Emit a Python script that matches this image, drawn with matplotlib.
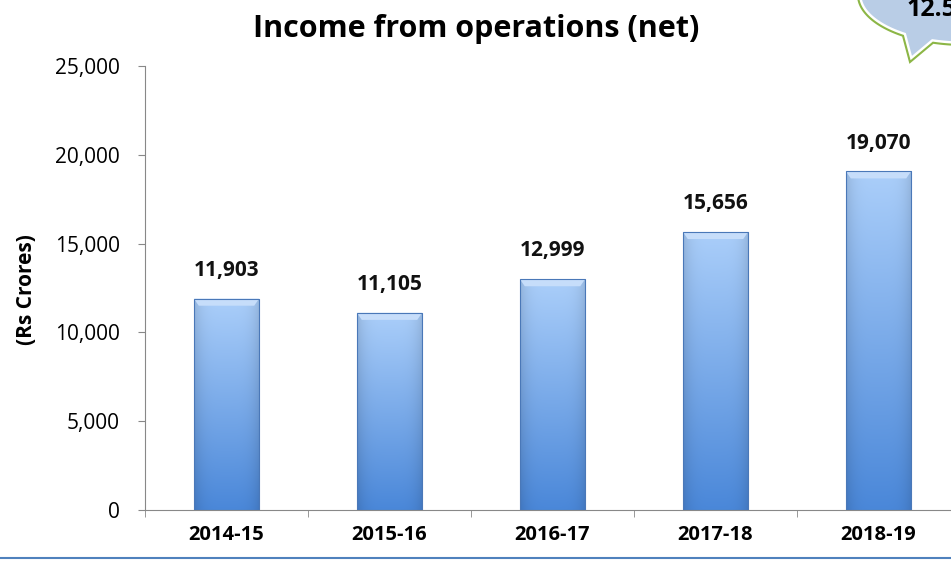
import numpy as np
import matplotlib
matplotlib.use("Agg")
import matplotlib.pyplot as plt
from matplotlib.patches import Polygon
from matplotlib.lines import Line2D

years = ["2014-15", "2015-16", "2016-17", "2017-18", "2018-19"]
income = [11903, 11105, 12999, 15656, 19070]
y_ticks = [0, 5000, 10000, 15000, 20000, 25000]

plt.rcParams["font.family"] = ["Open Sans", "DejaVu Sans"]

W, H = 951, 563
fig = plt.figure(figsize=(W / 100, H / 100), dpi=100)
ax = fig.add_axes([145 / W, 53 / H, 815 / W, 444 / H])

bar_w = 0.4
# vertical gradient: lighter at top, deeper blue at bottom
grad = np.linspace(0, 1, 256).reshape(-1, 1)
top_c = np.array([0.67, 0.81, 0.98])
bot_c = np.array([0.29, 0.53, 0.85])
img = (bot_c * (1 - grad)[..., None] + top_c * grad[..., None])
# horizontal shading for bevel look
xs = np.linspace(-1, 1, 64)
shade = 1 - 0.12 * np.abs(xs) ** 4
img = np.clip(img * shade[None, :, None], 0, 1)

bars = ax.bar(range(len(years)), income, width=bar_w, color="none",
              edgecolor="#4a78b8", linewidth=0.8, zorder=4)
bev_h = 400
bev_in = 0.03
for b in bars:
    x0, w, h = b.get_x(), b.get_width(), b.get_height()
    im = ax.imshow(img, extent=[x0, x0 + w, 0, h], origin="lower",
                   aspect="auto", zorder=2, interpolation="bilinear")
    im.set_clip_path(b)
    # light bevel on the top edge
    ax.add_patch(Polygon([(x0, h), (x0 + w, h), (x0 + w - bev_in, h - bev_h),
                          (x0 + bev_in, h - bev_h)], closed=True,
                         facecolor="#c6ddfa", edgecolor="none", zorder=3))

for i, v in enumerate(income):
    ax.text(i, v + 1000, f"{v:,}", ha="center", va="bottom",
            fontsize=15, fontweight="bold", color="#111111")

ax.set_xlim(-0.5, len(years) - 0.5)
ax.set_ylim(0, 25000)
ax.set_yticks(y_ticks)
ax.set_yticklabels([f"{t:,}" for t in y_ticks], fontsize=15)
ax.set_xticks(range(len(years)))
ax.set_xticklabels(years, fontsize=14.5, fontweight="bold")
ax.set_xticks(np.arange(-0.5, len(years), 1), minor=True)
ax.tick_params(axis="x", which="major", length=0, pad=11)
ax.tick_params(axis="x", which="minor", length=5, color="#888888", direction="out")
ax.tick_params(axis="y", length=5, color="#888888", direction="out", pad=13)
for s in ["top", "right"]:
    ax.spines[s].set_visible(False)
ax.spines["left"].set_color("#888888")
ax.spines["bottom"].set_color("#888888")
fig.text(27 / W, 1 - 290 / H, "(Rs Crores)", rotation=90, fontsize=15,
         fontweight="bold", ha="center", va="center")
fig.text(476 / W, 1 - 29 / H, "Income from operations (net)", fontsize=22,
         fontweight="bold", ha="center", va="center")

# blue rule at the bottom of the slide
fig.add_artist(Line2D([0, 1], [1 - 558 / H, 1 - 558 / H], color="#4f81bd",
                      linewidth=1.5, transform=fig.transFigure))

# clipped speech bubble at top right
t = np.linspace(0, 2 * np.pi, 400)
cx, cy, rx, ry = 965, -5, 107, 50
bx = cx + rx * np.cos(t)
by = cy + ry * np.sin(t)
pts = []
tail_done = False
for px, py in zip(bx, by):
    if py > cy and 903 < px < 933:
        if not tail_done:
            pts.append((910, 62))
            tail_done = True
        continue
    pts.append((px, py))
pts = [(px / W, 1 - py / H) for px, py in pts]
fig.add_artist(Polygon(pts, closed=True, facecolor="#b9cde6", edgecolor="white",
                       linewidth=5, transform=fig.transFigure, zorder=5))
fig.add_artist(Polygon(pts, closed=True, facecolor="none", edgecolor="#8cb646",
                       linewidth=1.5, transform=fig.transFigure, zorder=6))
fig.text(907 / W, 1 - 16 / H, "12.5", fontsize=18, fontweight="bold",
         va="baseline", ha="left", zorder=7)

fig.savefig("out.png", dpi=100)
